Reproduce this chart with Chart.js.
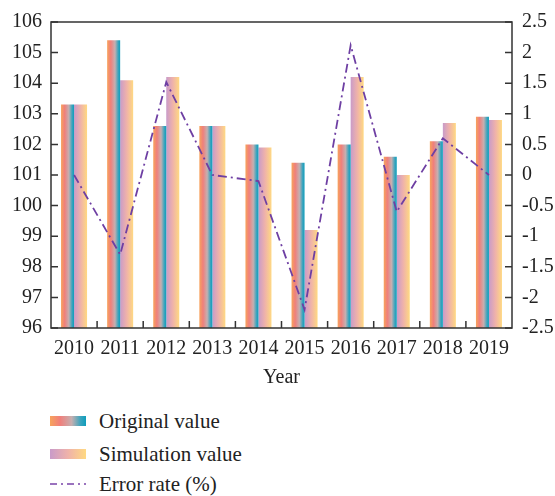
<!DOCTYPE html>
<html>
<head>
<meta charset="utf-8">
<script src="https://cdn.jsdelivr.net/npm/chart.js@4"></script>
<style>
body { margin: 0; background: #fff; font-family: "Liberation Serif", serif; }
#wrap { position: relative; width: 555px; height: 496px; }
#c { position: absolute; left: 0; top: 0; }
.leg { position: absolute; left: 50px; height: 24px; font-size: 21px; color: #222; line-height: 24px; }
.leg .box { position: absolute; left: 0; top: 7px; width: 36px; height: 10px; }
.leg span { position: absolute; left: 49px; top: 0; white-space: nowrap; }
</style>
</head>
<body>
<div id="wrap">
  <canvas id="c" width="555" height="395"></canvas>
  <div class="leg" style="top:409px"><div class="box" id="boxOrig"></div><span>Original value</span></div>
  <div class="leg" style="top:442px"><div class="box" id="boxSim"></div><span>Simulation value</span></div>
  <div class="leg" style="top:472px"><canvas class="box" id="boxErr" width="36" height="10"></canvas><span>Error rate (%)</span></div>
</div>
<script>
// data
const years = ["2010", "2011", "2012", "2013", "2014", "2015", "2016", "2017", "2018", "2019"];
const originalValue = [103.3, 105.4, 102.6, 102.6, 102.0, 101.4, 102.0, 101.6, 102.1, 102.9];
const simulationValue = [103.3, 104.1, 104.2, 102.6, 101.9, 99.2, 104.2, 101.0, 102.7, 102.8];
const errorRate = [0, -1.3, 1.52, 0, -0.1, -2.2, 2.12, -0.6, 0.6, 0];

const catPct = 0.564;
const origStops = [[0, "#F7A35C"], [0.28, "#F07F7B"], [0.6, "#C6AFB0"], [0.85, "#3AA4BE"], [1, "#0E9DBB"]];
const simStops = [[0, "#C99BC9"], [0.5, "#EFB2AA"], [1, "#FFD982"]];
const lineColor = "#6E3FA3";
const fontFam = '"Liberation Serif", serif';

// horizontal gradient across each bar
function barGradient(c, stops, side) {
    const a = c.chart.chartArea;
    if (!a || c.dataIndex === undefined) return stops[0][1];
    const cw = (a.right - a.left) / years.length;
    const center = a.left + cw * (c.dataIndex + 0.5);
    const w = cw * catPct / 2;
    const x0 = side === 0 ? center - w : center;
    if (!isFinite(x0) || !isFinite(w)) return stops[0][1];
    const g = c.chart.ctx.createLinearGradient(x0, 0, x0 + w, 0);
    stops.forEach(s => g.addColorStop(s[0], s[1]));
    return g;
}

// frame and inward ticks
const frame = {
    id: "frame",
    afterDraw(chart) {
        const { ctx, chartArea: a, scales } = chart;
        ctx.save();
        ctx.strokeStyle = "#333";
        ctx.lineWidth = 1.5;
        ctx.strokeRect(a.left, a.top, a.right - a.left, a.bottom - a.top);
        ctx.beginPath();
        scales.y.ticks.forEach(t => {
            const y = scales.y.getPixelForValue(t.value);
            ctx.moveTo(a.left, y); ctx.lineTo(a.left + 7, y);
        });
        scales.y1.ticks.forEach(t => {
            const y = scales.y1.getPixelForValue(t.value);
            ctx.moveTo(a.right, y); ctx.lineTo(a.right - 7, y);
        });
        const cw = (a.right - a.left) / years.length;
        for (let i = 1; i < years.length; i++) {
            const x = a.left + cw * i;
            ctx.moveTo(x, a.bottom); ctx.lineTo(x, a.bottom - 7);
        }
        ctx.stroke();
        ctx.restore();
    }
};

const tickFont = { family: fontFam, size: 20 };

new Chart(document.getElementById("c"), {
    data: {
        labels: years,
        datasets: [
            {
                type: "line",
                label: "Error rate (%)",
                data: errorRate,
                yAxisID: "y1",
                borderColor: lineColor,
                borderWidth: 1.8,
                borderDash: [9, 4, 2, 4],
                pointRadius: 0,
                tension: 0,
                order: 0
            },
            {
                type: "bar",
                label: "Original value",
                data: originalValue,
                yAxisID: "y",
                backgroundColor: c => barGradient(c, origStops, 0),
                categoryPercentage: catPct,
                barPercentage: 1,
                order: 1
            },
            {
                type: "bar",
                label: "Simulation value",
                data: simulationValue,
                yAxisID: "y",
                backgroundColor: c => barGradient(c, simStops, 1),
                categoryPercentage: catPct,
                barPercentage: 1,
                order: 1
            }
        ]
    },
    options: {
        responsive: false,
        animation: false,
        layout: { padding: { top: 15, left: 0, right: 0, bottom: 0 } },
        plugins: { legend: { display: false }, tooltip: { enabled: false } },
        scales: {
            x: {
                grid: { display: false, drawTicks: false },
                border: { display: false },
                ticks: { color: "#222", font: tickFont, padding: 9, maxRotation: 0 },
                title: { display: true, text: "Year", color: "#222", font: tickFont, padding: { top: 2, bottom: 5 } },
                afterFit: s => { s.height = 67; }
            },
            y: {
                position: "left",
                min: 96, max: 106,
                grid: { display: false, drawTicks: false },
                border: { display: false },
                ticks: { stepSize: 1, color: "#222", font: tickFont, padding: 9 },
                afterFit: s => { s.width = 51; }
            },
            y1: {
                position: "right",
                min: -2.5, max: 2.5,
                grid: { display: false, drawTicks: false },
                border: { display: false },
                ticks: { stepSize: 0.5, color: "#222", font: tickFont, padding: 10,
                         callback: v => String(+v.toFixed(1)) },
                afterFit: s => { s.width = 43; }
            }
        }
    },
    plugins: [frame]
});

// legend swatches
function cssGrad(stops) {
    return "linear-gradient(to right, " + stops.map(s => s[1] + " " + (s[0] * 100) + "%").join(", ") + ")";
}
document.getElementById("boxOrig").style.background = cssGrad(origStops);
document.getElementById("boxSim").style.background = cssGrad(simStops);
const ec = document.getElementById("boxErr").getContext("2d");
ec.strokeStyle = "#9A72BE";
ec.lineWidth = 2;
ec.setLineDash([7, 4, 2, 4]);
ec.beginPath(); ec.moveTo(0, 5); ec.lineTo(36, 5); ec.stroke();
</script>
</body>
</html>
